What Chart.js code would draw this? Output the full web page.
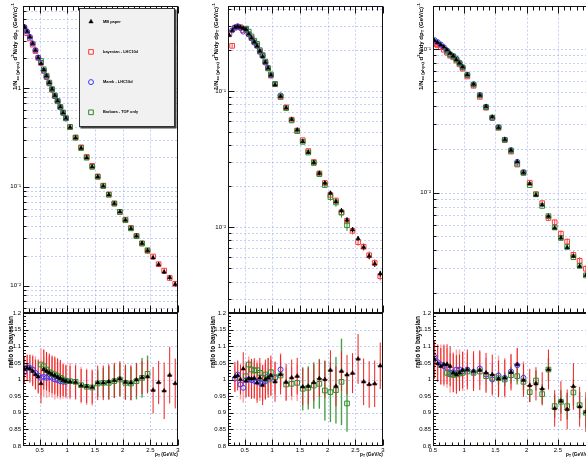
<!DOCTYPE html>
<html><head><meta charset="utf-8">
<script src="https://cdn.jsdelivr.net/npm/chart.js@4.4.1/dist/chart.umd.min.js"></script>
<style>
html,body{margin:0;padding:0;background:#fff;}
body{position:relative;width:586px;height:461px;overflow:hidden;}
canvas{position:absolute;top:0;}
</style></head><body>
<canvas id="u1" width="195" height="461" style="left:0px"></canvas>
<canvas id="l1" width="195" height="461" style="left:0px"></canvas>
<canvas id="u2" width="195" height="461" style="left:195px"></canvas>
<canvas id="l2" width="195" height="461" style="left:195px"></canvas>
<canvas id="u3" width="210" height="461" style="left:390px"></canvas>
<canvas id="l3" width="210" height="461" style="left:390px"></canvas>
<script>
// ---------- data ----------
const xTickLabels = [0.5, 1, 1.5, 2, 2.5, 3];
const ratioTickLabels = [0.8, 0.85, 0.9, 0.95, 1, 1.05, 1.1, 1.15, 1.2];
const logTickValues = [0.01, 0.1, 1];
const logTickText = ['10\u207B\u00B2', '10\u207B\u00B9', '1'];
const legendLabels = ['MB paper', 'bayesian - LHC10d', 'Marek - LHC10d', 'Barbara - TOF only'];

const xA = [0.225,0.275,0.325,0.375,0.425,0.475,0.525,0.575,0.625,0.675,0.725,0.775,0.825,0.875,0.925,0.975,
  1.05,1.15,1.25,1.35,1.45,1.55,1.65,1.75,1.85,1.95,2.05,2.15,2.25,2.35,2.45,2.55,2.65,2.75,2.85,2.95];
const halfA = [0.025,0.025,0.025,0.025,0.025,0.025,0.025,0.025,0.025,0.025,0.025,0.025,0.025,0.025,0.025,0.025,
  0.05,0.05,0.05,0.05,0.05,0.05,0.05,0.05,0.05,0.05,0.05,0.05,0.05,0.05,0.05,0.05,0.05,0.05,0.05,0.05];
const xB = [0.525,0.575,0.625,0.675,0.725,0.775,0.825,0.875,0.925,0.975,
  1.05,1.15,1.25,1.35,1.45,1.55,1.65,1.75,1.85,1.95,2.05,2.15,2.25,2.35,2.45,2.55,2.65,2.75,2.85,2.95];
const halfB = [0.025,0.025,0.025,0.025,0.025,0.025,0.025,0.025,0.025,0.025,
  0.05,0.05,0.05,0.05,0.05,0.05,0.05,0.05,0.05,0.05,0.05,0.05,0.05,0.05,0.05,0.05,0.05,0.05,0.05,0.05];

// panel 1 spectra
const mb1 = [4.16,3.71,3.27,2.81,2.40,2.03,1.77,1.53,1.32,1.13,0.97,0.837,0.736,0.640,0.561,0.492,
  0.400,0.313,0.246,0.197,0.159,0.126,0.1016,0.0831,0.0676,0.0557,0.0460,0.0379,0.0318,0.0268,0.0226,0.0191,0.0163,0.0137,0.0121,0.0103];
const mb1Err = [0.01,0.01,0.01,0.01,0.01,0.01,0.01,0.01,0.01,0.01,0.01,0.01,0.01,0.01,0.01,0.01,
  0.015,0.015,0.015,0.015,0.02,0.02,0.02,0.02,0.025,0.025,0.03,0.03,0.03,0.035,0.035,0.04,0.045,0.045,0.05,0.05];
const bayes1 = [4.04,3.58,3.17,2.74,2.36,2.01,1.79,1.485,1.288,1.108,0.956,0.827,0.731,0.638,0.562,0.494,
  0.403,0.3155,0.2505,0.201,0.1627,0.1273,0.1026,0.0837,0.0678,0.0556,0.0464,0.0383,0.0318,0.0266,0.0224,0.0197,0.01645,0.01418,0.01194,0.01043];
const bayes1Err = [0.02,0.02,0.02,0.02,0.02,0.02,0.02,0.02,0.02,0.02,0.02,0.02,0.02,0.02,0.02,0.02,
  0.025,0.025,0.025,0.025,0.03,0.03,0.03,0.03,0.035,0.035,0.04,0.04,0.045,0.045,0.05,0.055,0.06,0.06,0.065,0.07];
const marek1 = [4.13,3.71,3.28,2.82,2.41,2.03,1.80,1.497,1.294,1.117,0.961,0.827,0.73,0.635,0.558,0.49,
  null,null,null,null,null,null,null,null,null,null,null,null,null,null,null,null,null,null,null,null];
const barbara1 = [null,null,null,null,null,null,1.87,1.544,1.327,1.132,0.973,0.839,0.738,0.641,0.562,0.492,
  0.401,0.313,0.246,0.1966,0.1588,0.1258,0.1016,0.0829,0.0675,0.0556,0.0459,0.0379,0.0316,0.0267,0.0228,null,null,null,null,null];
// panel 1 ratios
const mbR1 = [1.03,1.035,1.032,1.025,1.015,1.008,0.988,1.03,1.025,1.02,1.015,1.012,1.007,1.003,0.998,0.995,
  0.993,0.992,0.982,0.979,0.977,0.99,0.99,0.993,0.997,1.002,0.992,0.99,0.999,1.006,1.008,0.968,0.991,0.966,1.013,0.988];
const mbR1Err = [0.04,0.04,0.042,0.045,0.045,0.05,0.06,0.06,0.058,0.058,0.057,0.057,0.057,0.056,0.048,0.047,
  0.048,0.05,0.05,0.05,0.05,0.052,0.052,0.053,0.053,0.053,0.053,0.053,0.05,0.05,0.05,0.07,0.065,0.085,0.085,0.075];
const marekR1 = [1.022,1.037,1.035,1.03,1.02,1.012,1.005,1.008,1.005,1.008,1.005,1.0,0.998,0.995,0.993,0.993,
  null,null,null,null,null,null,null,null,null,null,null,null,null,null,null,null,null,null,null,null];
const marekR1Err = [0.035,0.035,0.04,0.045,0.05,0.05,0.055,0.06,0.06,0.06,0.06,0.06,0.055,0.055,0.05,0.05,
  null,null,null,null,null,null,null,null,null,null,null,null,null,null,null,null,null,null,null,null];
const barbaraR1 = [null,null,null,null,null,null,1.045,1.04,1.03,1.022,1.018,1.015,1.01,1.005,1.0,0.996,
  0.995,0.993,0.983,0.978,0.976,0.988,0.99,0.99,0.995,1.0,0.99,0.988,0.995,1.005,1.017,null,null,null,null,null];
const barbaraR1Err = [null,null,null,null,null,null,0.05,0.05,0.05,0.05,0.05,0.05,0.05,0.05,0.05,0.05,
  0.055,0.055,0.055,0.055,0.055,0.04,0.045,0.05,0.05,0.05,0.05,0.05,0.055,0.06,0.055,null,null,null,null,null];

// panel 2 spectra
const mb2 = [0.255,0.277,0.293,0.297,0.293,0.288,0.282,0.261,0.244,0.228,0.213,0.196,0.179,0.162,0.147,0.131,
  0.111,0.0914,0.0751,0.0618,0.0517,0.0425,0.0355,0.0298,0.0249,0.0211,0.0178,0.0154,0.0132,0.0113,0.0096,0.00826,0.00714,0.00614,0.0054,0.00456];
const mb2Err = [0.01,0.01,0.01,0.01,0.01,0.01,0.01,0.01,0.01,0.01,0.01,0.01,0.01,0.01,0.01,0.01,
  0.015,0.015,0.015,0.015,0.02,0.02,0.02,0.02,0.03,0.03,0.03,0.03,0.04,0.04,0.04,0.04,0.05,0.05,0.05,0.05];
const bayes2 = [0.265,0.214,0.2907,0.2935,0.293,0.279,0.2831,0.2602,0.2435,0.2271,0.2152,0.195,0.1821,0.162,0.1463,0.1294,
  0.1118,0.0900,0.0757,0.0615,0.0512,0.0435,0.0362,0.0301,0.0248,0.0211,0.0173,0.0157,0.01288,0.01114,0.00942,0.00778,0.00719,0.00623,0.00547,0.00438];
const bayes2Err = [0.03,0.03,0.02,0.02,0.02,0.02,0.02,0.02,0.02,0.02,0.02,0.02,0.02,0.02,0.02,0.02,
  0.03,0.03,0.03,0.03,0.035,0.035,0.04,0.04,0.045,0.045,0.05,0.05,0.055,0.055,0.06,0.06,0.06,0.065,0.065,0.07];
const marek2 = [null,0.278,0.2916,0.298,0.2886,0.272,0.2825,0.2602,0.243,0.2262,0.2137,0.193,0.1803,0.1612,0.1478,0.130,
  0.1124,0.0927,null,null,null,null,null,null,null,null,null,null,null,null,null,null,null,null,null,null];
const barbara2 = [null,null,null,null,null,null,0.286,0.272,0.2508,0.2332,0.2212,0.1989,0.183,0.1644,0.1463,0.1322,
  0.1126,0.0911,0.0746,0.0607,0.0507,0.0423,0.0353,0.0296,0.0245,0.0204,0.01664,0.0152,0.01279,0.01034,null,null,null,null,null,null];
const barbara2Err = [null,null,null,null,null,null,0.015,0.015,0.015,0.015,0.015,0.015,0.015,0.015,0.015,0.015,
  0.02,0.02,0.02,0.02,0.02,0.03,0.035,0.04,0.045,0.05,0.06,0.07,0.08,0.09,null,null,null,null,null,null];
// panel 2 ratios
const mbR2 = [null,null,1.008,1.012,1.0,1.032,0.996,1.003,1.002,1.004,0.99,1.005,0.983,1.0,1.005,1.012,
  0.993,1.015,0.992,1.005,1.01,0.978,0.98,0.991,1.003,1.0,1.028,0.98,1.025,1.014,1.019,1.062,0.993,0.985,0.987,1.041];
const mbR2Err = [null,null,0.045,0.045,0.045,0.05,0.05,0.055,0.06,0.06,0.06,0.06,0.06,0.06,0.06,0.06,
  0.06,0.06,0.055,0.055,0.055,0.055,0.055,0.055,0.055,0.055,0.06,0.06,0.06,0.06,0.06,0.075,0.07,0.07,0.07,0.07];
const marekR2 = [null,null,1.003,1.015,0.985,0.975,0.998,1.0,0.998,0.996,0.993,0.99,0.99,0.995,1.01,1.005,
  1.005,1.03,null,null,null,null,null,null,null,null,null,null,null,null,null,null,null,null,null,null];
const marekR2Err = [null,null,0.04,0.04,0.045,0.045,0.05,0.05,0.055,0.055,0.055,0.055,0.055,0.055,0.055,0.055,
  0.05,0.05,null,null,null,null,null,null,null,null,null,null,null,null,null,null,null,null,null,null];
const barbaraR2 = [null,null,null,null,null,null,1.01,1.045,1.03,1.027,1.028,1.02,1.005,1.015,1.0,1.022,
  1.007,1.012,0.985,0.987,0.99,0.972,0.975,0.982,0.987,0.967,0.962,0.968,0.993,0.928,null,null,null,null,null,null];
const barbaraR2Err = [null,null,null,null,null,null,0.025,0.025,0.03,0.03,0.03,0.03,0.03,0.03,0.035,0.035,
  0.04,0.04,0.05,0.05,0.055,0.065,0.065,0.07,0.075,0.09,0.09,0.1,0.13,0.085,null,null,null,null,null,null];

// panel 3 spectra
const mb3 = [0.1143,0.111,0.1069,0.1031,0.0984,0.0934,0.0891,0.0842,0.0797,0.0748,
  0.0662,0.0568,0.0477,0.0398,0.0336,0.0284,0.0234,0.0197,0.0164,0.0138,
  0.01153,0.00964,0.00822,0.00687,0.00569,0.00485,0.00416,0.00362,0.00308,0.00267];
const mb3Err = [0.01,0.01,0.01,0.01,0.01,0.01,0.01,0.01,0.01,0.01,
  0.015,0.015,0.015,0.015,0.015,0.015,0.015,0.015,0.015,0.015,0.02,0.02,0.02,0.02,0.02,0.03,0.03,0.03,0.03,0.03];
const bayes3 = [0.1078,0.1059,0.1028,0.0987,0.0941,0.0898,0.0874,0.0830,0.0781,0.0728,
  0.0643,0.0554,0.0464,0.0390,0.0331,0.0283,0.0233,0.0193,0.0157,0.01383,
  0.01174,0.00977,0.00846,0.00667,0.00623,0.00519,0.00457,0.0037,0.00336,0.00296];
const bayes3Err = [0.03,0.03,0.03,0.03,0.03,0.03,0.03,0.03,0.03,0.03,
  0.03,0.03,0.03,0.03,0.03,0.03,0.03,0.03,0.03,0.03,0.035,0.035,0.04,0.04,0.045,0.05,0.05,0.055,0.06,0.06];
const marek3 = [0.1151,0.1114,0.1074,0.1026,0.0974,0.0916,0.0893,0.0855,0.0804,0.0746,
  0.0662,0.0567,0.0479,0.0396,0.0331,0.0286,0.0234,0.0198,0.0164,0.0139,
  null,null,null,null,null,null,null,null,null,null];
const barbara3 = [null,null,null,null,0.096,0.0912,0.0886,0.0842,0.0795,0.0743,
  0.0658,0.0565,0.0475,0.0394,0.0333,0.0284,0.0233,0.0196,0.0159,0.01373,
  0.0113,0.00974,0.00809,0.00687,0.00573,0.00484,0.0042,0.00356,0.0031,0.00266];
// panel 3 ratios
const mbR3 = [1.06,1.048,1.04,1.045,1.046,1.04,1.02,1.015,1.02,1.028,
  1.03,1.025,1.028,1.02,1.015,1.002,1.005,1.022,1.045,0.998,
  0.982,0.987,0.972,1.03,0.913,0.935,0.91,0.979,0.918,0.902];
const mbR3Err = [0.058,0.055,0.055,0.06,0.06,0.06,0.058,0.058,0.055,0.055,
  0.06,0.06,0.06,0.06,0.06,0.055,0.055,0.055,0.05,0.05,
  0.05,0.05,0.05,0.06,0.055,0.06,0.06,0.07,0.06,0.06];
const marekR3 = [1.068,1.052,1.045,1.04,1.035,1.02,1.022,1.03,1.03,1.025,
  1.03,1.023,1.033,1.015,1.0,1.012,1.005,1.024,1.043,1.005,
  null,null,null,null,null,null,null,null,null,null];
const marekR3Err = [0.05,0.055,0.06,0.06,0.06,0.06,0.06,0.06,0.06,0.06,
  0.05,0.05,0.05,0.05,0.05,0.06,0.06,0.05,0.05,0.05,
  null,null,null,null,null,null,null,null,null,null];
const barbaraR3 = [null,null,null,null,1.02,1.016,1.014,1.015,1.018,1.02,
  1.024,1.02,1.024,1.01,1.005,1.004,1.0,1.013,1.01,0.993,
  0.962,0.997,0.956,1.03,0.92,0.933,0.92,0.961,0.923,0.9];
const barbaraR3Err = [null,null,null,null,0.015,0.015,0.015,0.015,0.015,0.015,
  0.02,0.02,0.02,0.02,0.02,0.02,0.02,0.025,0.025,0.025,
  0.03,0.03,0.03,0.035,0.035,0.035,0.04,0.04,0.04,0.045];

// ---------- styles ----------
const FONT = '"Liberation Sans", Arial, Helvetica, sans-serif';
const GRID = 'rgba(120,140,240,0.42)';
const RED = '#ff3b3b', BLUE = '#3a3aff', GREEN = '#2e8b2e', PINK = '#ffa0a0', DKRED = '#ee2020', LTGREEN = '#4aa04a';
const STY = {
  mb:      {ps:'triangle', r:2.5, fill:'#000', col:'#000', bw:0.5},
  bayes:   {ps:'rect', r:3.3, fill:'rgba(255,255,255,0)', col:RED, bw:1},
  marek:   {ps:'circle', r:2.5, fill:'rgba(255,255,255,0)', col:BLUE, bw:1},
  barbara: {ps:'rect', r:3.3, fill:'rgba(255,255,255,0)', col:GREEN, bw:1}
};
Chart.defaults.font.family = FONT;
Chart.defaults.color = '#000';

function mkSet(xs, ys, es, hs, key, order, err) {
  const data = [];
  xs.forEach((x, i) => {
    if (ys[i] == null) return;
    data.push({x: x, y: ys[i], e: es ? es[i] : null, h: hs ? hs[i] : null});
  });
  const s = STY[key];
  return {label: key, data, order, pointStyle: s.ps, pointRadius: s.r,
    pointBackgroundColor: s.fill, pointBorderColor: s.col, pointBorderWidth: s.bw,
    backgroundColor: s.fill, borderColor: s.col, err: err || null};
}

function fitFont(ctx, segs, len, weight) {
  let w = 0;
  for (const s of segs) { ctx.font = `${weight} ${s.s ? 7 : 10}px ${FONT}`; w += ctx.measureText(s.t).width; }
  return 10 * len / w;
}
function drawRich(ctx, segs, x0, y0, len, rot, weight) {
  const sz = fitFont(ctx, segs, len, weight);
  ctx.save();
  ctx.translate(x0, y0);
  if (rot) ctx.rotate(-Math.PI / 2);
  ctx.textBaseline = 'middle'; ctx.textAlign = 'left'; ctx.fillStyle = '#000';
  let px = 0;
  for (const s of segs) {
    const fs = s.s ? sz * 0.7 : sz;
    ctx.font = `${weight} ${fs}px ${FONT}`;
    const dy = s.s === -1 ? sz * 0.32 : (s.s === 1 ? -sz * 0.38 : 0);
    ctx.fillText(s.t, px, dy);
    px += ctx.measureText(s.t).width;
  }
  ctx.restore();
}
function drawMarker(ctx, key, x, y) {
  const s = STY[key];
  ctx.save();
  ctx.lineWidth = s.bw; ctx.strokeStyle = s.col; ctx.fillStyle = s.fill;
  ctx.beginPath();
  if (s.ps === 'triangle') {
    const r = s.r;
    ctx.moveTo(x, y - r); ctx.lineTo(x + r * 0.866, y + r * 0.5); ctx.lineTo(x - r * 0.866, y + r * 0.5); ctx.closePath();
    ctx.fill(); ctx.stroke();
  } else if (s.ps === 'rect') {
    const h = s.r * Math.SQRT1_2;
    ctx.rect(x - h, y - h, 2 * h, 2 * h); ctx.stroke();
  } else {
    ctx.arc(x, y, s.r, 0, Math.PI * 2); ctx.stroke();
  }
  ctx.restore();
}

const TITLE_UP = [{t:'1/N',s:0},{t:'ev (phys)',s:-1},{t:' d',s:0},{t:'2',s:1},{t:'N/dy dp',s:0},{t:'T',s:-1},{t:' (GeV/c)',s:0},{t:'-1',s:1}];
const TITLE_LOW = [{t:'ratio to bayesian',s:0}];
const TITLE_X = [{t:'p',s:0},{t:'T',s:-1},{t:' (GeV/c)',s:0}];

const rootPlugin = {
  id: 'root',
  beforeDatasetsDraw(chart, args, o) {
    const {ctx, chartArea: a} = chart;
    const x = chart.scales.x, y = chart.scales.y;
    ctx.save();
    ctx.beginPath(); ctx.rect(a.left, a.top, a.right - a.left, a.bottom - a.top); ctx.clip();
    ctx.strokeStyle = GRID; ctx.lineWidth = 1; ctx.setLineDash([2, 2]);
    ctx.beginPath();
    for (const v of xTickLabels) {
      if (v <= x.min + 1e-6 || v >= x.max - 1e-6) continue;
      const px = Math.round(x.getPixelForValue(v)) + 0.5;
      ctx.moveTo(px, a.top); ctx.lineTo(px, a.bottom);
    }
    if (o.kind === 'upper') {
      for (let n = -4; n <= 1; n++) for (let m = 1; m <= 9; m++) {
        const v = m * Math.pow(10, n);
        if (v <= y.min || v >= y.max) continue;
        const py = Math.round(y.getPixelForValue(v)) + 0.5;
        ctx.moveTo(a.left, py); ctx.lineTo(a.right, py);
      }
    } else {
      for (const v of ratioTickLabels) {
        if (v <= y.min + 1e-6 || v >= y.max - 1e-6) continue;
        const py = Math.round(y.getPixelForValue(v)) + 0.5;
        ctx.moveTo(a.left, py); ctx.lineTo(a.right, py);
      }
    }
    ctx.stroke();
    ctx.setLineDash([]);
    // error bars
    const metas = chart.getSortedVisibleDatasetMetas().slice().reverse();
    for (const meta of metas) {
      const ds = chart.data.datasets[meta.index];
      if (!ds.err) continue;
      ctx.lineWidth = ds.err.width;
      for (const p of ds.data) {
        ctx.strokeStyle = typeof ds.err.color === 'function' ? ds.err.color(p.x) : ds.err.color;
        const px = x.getPixelForValue(p.x), py = y.getPixelForValue(p.y);
        ctx.beginPath();
        if (p.e != null) {
          const lo = ds.err.rel ? p.y * (1 - p.e) : p.y - p.e;
          const hi = ds.err.rel ? p.y * (1 + p.e) : p.y + p.e;
          ctx.moveTo(px, y.getPixelForValue(lo)); ctx.lineTo(px, y.getPixelForValue(hi));
        }
        if (p.h != null) {
          ctx.moveTo(x.getPixelForValue(p.x - p.h), py); ctx.lineTo(x.getPixelForValue(p.x + p.h), py);
        }
        ctx.stroke();
      }
    }
    ctx.restore();
  },
  afterDatasetsDraw(chart, args, o) {
    const {ctx, chartArea: a} = chart;
    const x = chart.scales.x, y = chart.scales.y;
    ctx.save();
    ctx.strokeStyle = '#111'; ctx.lineWidth = 1;
    const L = Math.round(a.left) + 0.5, R = Math.round(a.right) - 0.5, T = Math.round(a.top) + 0.5, B = Math.round(a.bottom) - 0.5;
    ctx.strokeRect(L, T, R - L, B - T);
    ctx.beginPath();
    for (let k = Math.ceil(x.min * 10 - 1e-6); k <= Math.floor(x.max * 10 + 1e-6); k++) {
      const px = Math.round(x.getPixelForValue(k / 10)) + 0.5;
      const major = k % 5 === 0;
      if (o.kind === 'upper') {
        const len = major ? 7 : 4;
        ctx.moveTo(px, T); ctx.lineTo(px, T + len);
        ctx.moveTo(px, B); ctx.lineTo(px, B - len);
      } else {
        const len = major ? 6 : 3;
        ctx.moveTo(px, B); ctx.lineTo(px, B - len);
      }
    }
    if (o.kind === 'upper') {
      for (let n = -4; n <= 1; n++) for (let m = 1; m <= 9; m++) {
        const v = m * Math.pow(10, n);
        if (v <= y.min || v >= y.max) continue;
        const py = Math.round(y.getPixelForValue(v)) + 0.5;
        const len = m === 1 ? 6 : 3;
        ctx.moveTo(L, py); ctx.lineTo(L + len, py);
      }
    } else {
      for (let k = 81; k <= 119; k++) {
        const py = Math.round(y.getPixelForValue(k / 100)) + 0.5;
        const len = k % 5 === 0 ? 5 : 2.5;
        ctx.moveTo(L, py); ctx.lineTo(L + len, py);
      }
    }
    ctx.stroke();
    ctx.restore();
    // titles
    if (o.kind === 'upper') {
      drawRich(ctx, TITLE_UP, o.titleX, 90, 87, true, 'bold');
    } else {
      drawRich(ctx, TITLE_LOW, o.titleX, 368, 52, true, 'bold');
      drawRich(ctx, TITLE_X, a.right - 23, 455, 23, false, 'bold');
    }
    // legend
    if (o.legend) {
      const bx = 79, by = 8, bw = 96, bh = 119;
      ctx.save();
      ctx.fillStyle = '#444'; ctx.fillRect(bx + 1.5, by + 1.5, bw, bh);
      ctx.fillStyle = '#f1f1f1'; ctx.fillRect(bx, by, bw, bh);
      ctx.strokeStyle = '#333'; ctx.lineWidth = 1; ctx.strokeRect(bx + 0.5, by + 0.5, bw - 1, bh - 1);
      const keys = ['mb', 'bayes', 'marek', 'barbara'];
      const sz = fitFont(ctx, [{t: legendLabels[1], s: 0}], 35, 'bold');
      ctx.font = `bold ${sz}px ${FONT}`; ctx.fillStyle = '#000'; ctx.textBaseline = 'middle'; ctx.textAlign = 'left';
      keys.forEach((k, i) => {
        const yy = 21.7 + i * 30.2;
        drawMarker(ctx, k, 91, yy);
        ctx.fillText(legendLabels[i], 103, yy);
      });
      ctx.restore();
    }
  }
};

function logLabel(v) {
  const i = logTickValues.findIndex(t => Math.abs(t - v) / t < 1e-6);
  return i >= 0 ? logTickText[i] : '';
}

function yAxisBase(W) {
  return {
    position: 'left',
    grid: {display: false, drawTicks: false},
    border: {display: false},
    ticks: {autoSkip: false, padding: 2, font: {size: 6}, color: '#000'},
    afterFit: s => { s.width = W; }
  };
}

function buildUpper(c) {
  const yb = yAxisBase(c.W);
  yb.type = 'logarithmic'; yb.min = c.yMin; yb.max = c.yMax;
  yb.afterBuildTicks = s => { s.ticks = logTickValues.filter(v => v >= s.min && v <= s.max).map(v => ({value: v})); };
  yb.ticks.callback = v => logLabel(v);
  new Chart(document.getElementById('u' + c.n), {
    type: 'scatter',
    data: {datasets: [
      mkSet(c.xs, c.mb, c.mbErr, null, 'mb', 0, {rel: true, color: '#000', width: 1}),
      mkSet(c.xs, c.barbara, c.barbaraErr, null, 'barbara', 1, {rel: true, color: GREEN, width: 1}),
      mkSet(c.xs, c.marek, null, null, 'marek', 2, null),
      mkSet(c.xs, c.bayes, c.bayesErr, null, 'bayes', 3, {rel: true, color: RED, width: 1})
    ]},
    options: {
      responsive: false, animation: false, devicePixelRatio: 1, events: [],
      layout: {padding: {left: 0, right: c.padR, top: 3, bottom: 461 - 313}},
      scales: {
        x: {type: 'linear', min: c.xMin, max: c.xMax, display: false},
        y: yb
      },
      plugins: {legend: {display: false}, tooltip: {enabled: false},
        root: {kind: 'upper', titleX: c.upTitleX, legend: c.legend}}
    },
    plugins: [rootPlugin]
  });
}

function buildLower(c) {
  const yb = yAxisBase(c.W);
  yb.type = 'linear'; yb.min = 0.8; yb.max = 1.2;
  yb.afterBuildTicks = s => { s.ticks = ratioTickLabels.map(v => ({value: v})); };
  yb.ticks.callback = v => String(v);
  new Chart(document.getElementById('l' + c.n), {
    type: 'scatter',
    data: {datasets: [
      mkSet(c.xs, c.mbR, c.mbRErr, c.half, 'mb', 0, {rel: false, color: DKRED, width: 1}),
      mkSet(c.xs, c.barbaraR, c.barbaraRErr, null, 'barbara', 1, {rel: false, color: v => v < 1.5 ? PINK : LTGREEN, width: 1.4}),
      mkSet(c.xs, c.marekR, c.marekRErr, null, 'marek', 2, {rel: false, color: PINK, width: 1.4})
    ]},
    options: {
      responsive: false, animation: false, devicePixelRatio: 1, events: [],
      layout: {padding: {left: 0, right: c.padR, top: 313, bottom: 0}},
      scales: {
        x: {type: 'linear', min: c.xMin, max: c.xMax, position: 'bottom',
          grid: {display: false, drawTicks: false}, border: {display: false},
          ticks: {autoSkip: false, maxRotation: 0, padding: 1, font: {size: 6}, color: '#000', callback: v => String(v)},
          afterBuildTicks: s => { s.ticks = xTickLabels.filter(v => v >= s.min - 1e-6 && v <= s.max + 1e-6).map(v => ({value: v})); },
          afterFit: s => { s.height = 15; }},
        y: yb
      },
      plugins: {legend: {display: false}, tooltip: {enabled: false},
        root: {kind: 'lower', titleX: c.lowTitleX}}
    },
    plugins: [rootPlugin]
  });
}

const cols = [
  {n: 1, W: 23, padR: 17, xMin: 0.2, xMax: 3, yMin: 0.00528, yMax: 6.8, upTitleX: 15.5, lowTitleX: 11, legend: true,
   xs: xA, half: halfA, mb: mb1, mbErr: mb1Err, bayes: bayes1, bayesErr: bayes1Err, marek: marek1, barbara: barbara1, barbaraErr: null,
   mbR: mbR1, mbRErr: mbR1Err, marekR: marekR1, marekRErr: marekR1Err, barbaraR: barbaraR1, barbaraRErr: barbaraR1Err},
  {n: 2, W: 33, padR: 7, xMin: 0.2, xMax: 3, yMin: 0.00235, yMax: 0.4221, upTitleX: 21, lowTitleX: 18, legend: false,
   xs: xA, half: halfA, mb: mb2, mbErr: mb2Err, bayes: bayes2, bayesErr: bayes2Err, marek: marek2, barbara: barbara2, barbaraErr: barbara2Err,
   mbR: mbR2, mbRErr: mbR2Err, marekR: marekR2, marekRErr: marekR2Err, barbaraR: barbaraR2, barbaraRErr: barbaraR2Err},
  {n: 3, W: 43, padR: 11, xMin: 0.5, xMax: 3, yMin: 0.001457, yMax: 0.2001, upTitleX: 31, lowTitleX: 28, legend: false,
   xs: xB, half: halfB, mb: mb3, mbErr: mb3Err, bayes: bayes3, bayesErr: bayes3Err, marek: marek3, barbara: barbara3, barbaraErr: null,
   mbR: mbR3, mbRErr: mbR3Err, marekR: marekR3, marekRErr: marekR3Err, barbaraR: barbaraR3, barbaraRErr: barbaraR3Err}
];

for (const c of cols) {
  buildUpper(c);
  buildLower(c);
}
</script></body></html>
